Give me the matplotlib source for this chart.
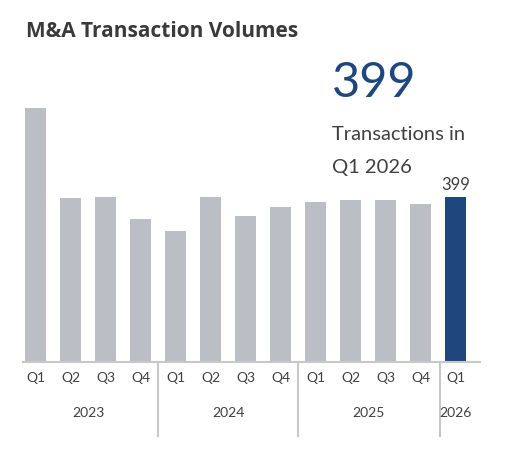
import matplotlib.pyplot as plt
import matplotlib.transforms as mtransforms

quarters = ["Q1", "Q2", "Q3", "Q4", "Q1", "Q2", "Q3", "Q4", "Q1", "Q2", "Q3", "Q4", "Q1"]
years = ["2023", "2024", "2025", "2026"]
year_spans = [(0, 3), (4, 7), (8, 11), (12, 12)]
volumes = [617, 397, 399, 346, 317, 399, 355, 375, 389, 394, 392, 383, 399]

grey = "#BBBEC5"
navy = "#1F477D"
text_col = "#404040"
body_font = ["Lato", "DejaVu Sans"]

fig = plt.figure(figsize=(5.05, 4.55), dpi=100)
ax = fig.add_axes([23 / 505, 93 / 455, 457 / 505, 268 / 455])

x = list(range(len(volumes)))
colors = [grey] * (len(volumes) - 1) + [navy]
ax.bar(x, volumes, width=0.6, color=colors)
ax.set_xlim(-0.36, 12.7)
ax.set_ylim(0, 650)

for s in ["top", "right", "left"]:
    ax.spines[s].set_visible(False)
ax.spines["bottom"].set_color("#C8C8C8")
ax.spines["bottom"].set_linewidth(1.5)
ax.set_yticks([])
ax.set_xticks(x)
ax.set_xticklabels(quarters, fontsize=10, color=text_col, family=body_font)
ax.tick_params(axis="x", length=0, pad=7)

# year labels and separators under the axis
trans = mtransforms.blended_transform_factory(ax.transData, ax.transAxes)
for yr, (a, b) in zip(years, year_spans):
    ax.text((a + b) / 2, -0.19, yr, transform=trans, ha="center", va="center",
            fontsize=10, color=text_col, family=body_font)
for sep in [3.5, 7.5, 11.55]:
    ax.plot([sep, sep], [0, -0.276], transform=trans, color="#C8C8C8",
            lw=1.5, clip_on=False)

# value label on last bar
ax.text(x[-1], volumes[-1] + 12, str(volumes[-1]), ha="center", va="bottom",
        fontsize=12, color=text_col, family=body_font)

fig.text(26 / 505, 1 - 37 / 455, "M&A Transaction Volumes", fontsize=15,
         fontweight="bold", color="#3A3A3A", family=["Open Sans", "DejaVu Sans"],
         va="baseline")
fig.text(332 / 505, 1 - 97 / 455, "399", fontsize=35, color=navy,
         family=body_font, va="baseline")
fig.text(332 / 505, 1 - 140 / 455, "Transactions in", fontsize=14.5, color=text_col,
         family=body_font, va="baseline")
fig.text(332 / 505, 1 - 173 / 455, "Q1 2026", fontsize=14.5, color=text_col,
         family=body_font, va="baseline")

fig.savefig("out.png", dpi=100)
